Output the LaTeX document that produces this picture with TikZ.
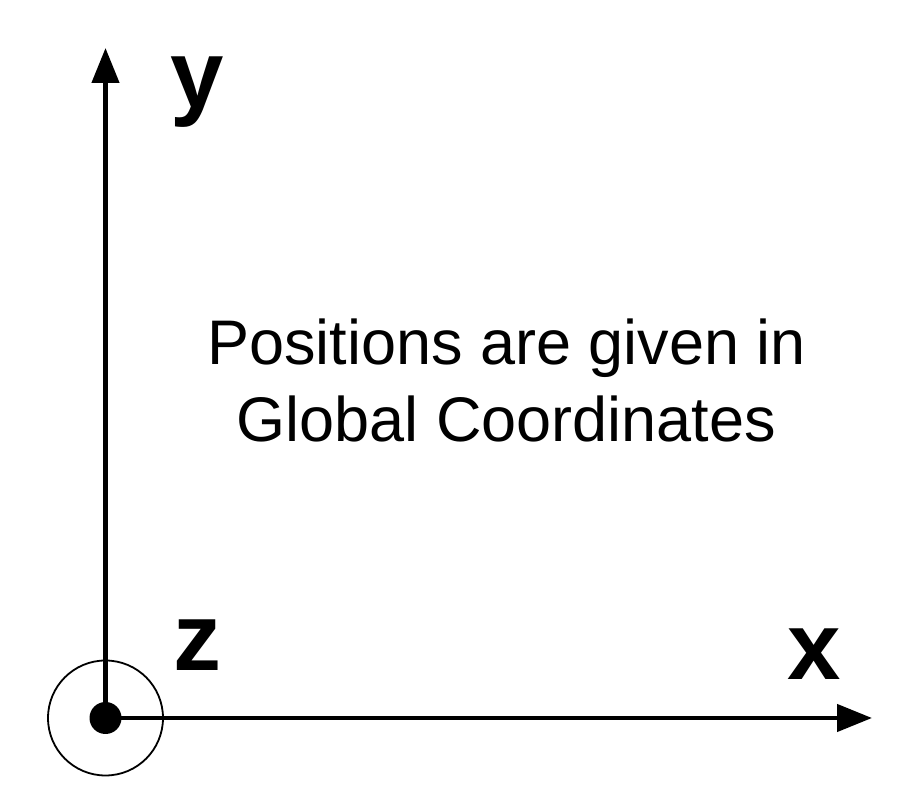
\documentclass[tikz,border=0pt]{standalone}
\usepackage{fontspec}
\setmainfont{Liberation Sans}
\usetikzlibrary{arrows.meta}
\begin{document}
\begin{tikzpicture}[x=1pt, y=1pt,
  axis/.style={line width=4.5pt, -{Triangle[length=35pt, width=27pt]}},
  axislabel/.style={anchor=base west, inner sep=0pt, font=\fontsize{96}{96}\selectfont\bfseries},
  every node/.style={text=black}]
  \useasboundingbox (0,0) rectangle (920,791);

  % origin with z pointing out of the page
  \node[circle, fill, minimum size=32pt, inner sep=0pt] (o) at (105.5,73) {};
  \node[circle, draw, line width=1.8pt, minimum size=115pt, inner sep=0pt] (ring) at (o) {};
  \coordinate (ytip) at (105.5,743);
  \coordinate (xtip) at (872,73);

  % axes
  \draw[axis] (o.center) -- (ytip);
  \draw[axis] (o.center) -- (xtip);

  % labels
  \node[axislabel] (ylab) at (170,683) {y};
  \node[axislabel] (zlab) at (173,120) {z};
  \node[axislabel] (xlab) at (787,111) {x};

  % note (base = last line)
  \node[anchor=base, align=center, inner sep=0pt,
        font=\fontsize{63}{77}\selectfont] (note) at (506.5,349)
        {Positions are given in\\Global Coordinates};
\end{tikzpicture}
\end{document}
